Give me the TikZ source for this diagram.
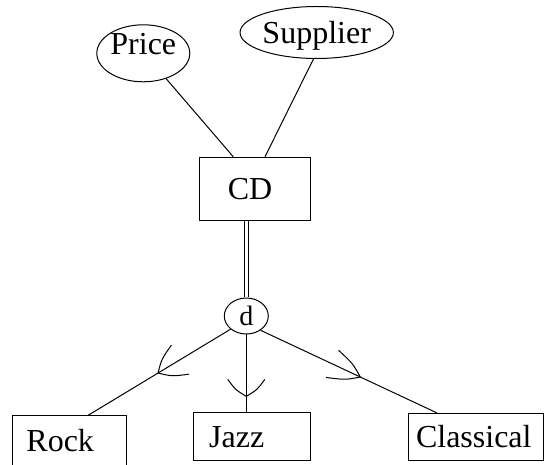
\documentclass[tikz,border=0pt]{standalone}
\usepackage{fontspec}
\setmainfont{Liberation Serif}
\usetikzlibrary{shapes.geometric,decorations.markings}
\tikzset{
  lbl/.style={font=\fontsize{32}{38}\selectfont, text height=21.2pt, text depth=0pt, inner sep=0pt},
  attr/.style={lbl, draw, ellipse, line width=1pt},
  entity/.style={lbl, draw, rectangle, line width=1pt},
  conn/.style={line width=1pt},
  isa/.style n args={3}{postaction={decorate, decoration={markings,
     mark=at position #1 with {\draw[line width=1pt] (-#2,#3) .. controls (-0.4*#2,0.6*#3) .. (0,0) .. controls (-0.4*#2,-0.6*#3) .. (-#2,-#3);}}}}
}
\begin{document}
\begin{tikzpicture}[x=1pt, y=-1pt]
\clip (0,0) rectangle (544,465);
\fill[white] (0,0) rectangle (544,465);
% attributes
\node[attr, text depth=18pt, minimum width=93pt, minimum height=57pt] (price) at (143.3,53.3) {Price};
\node[attr, minimum width=150pt, minimum height=52pt] (supplier) at (316.7,32.5) {Supplier};
% entity
\node[entity, minimum width=111.4pt, minimum height=63.4pt] (cd) at (255,189) {CD\kern10pt};
% disjoint circle
\node[draw, ellipse, line width=1pt, inner sep=0pt, minimum width=44pt, minimum height=36pt,
      font=\fontsize{28}{32}\selectfont, text height=19pt, text depth=0pt] (d) at (246.3,316) {d};
% subclasses
\node[entity, minimum width=114pt, minimum height=50.6pt] (rock) at (69.7,441) {Rock\kern19pt};
\node[entity, minimum width=116.7pt, minimum height=48.3pt] (jazz) at (251.7,436.5) {Jazz\kern30pt};
\node[entity, minimum width=135pt, minimum height=46.7pt] (classical) at (475.8,436.7) {Classical\kern4pt};
% connectors
\draw[conn] (price.-48) -- ([xshift=-21.7pt]cd.north);
\draw[conn] (supplier.-97) -- ([xshift=10pt]cd.north);
\draw[conn, double, double distance=3.5pt, shorten >=0.6pt] (cd.south -| d.north) -- (d.north);
\draw[conn, isa={0.51}{26}{17}] (d.220) -- ([xshift=18.6pt]rock.north);
\draw[conn, isa={0.8}{17}{18.5}] (d.south) -- (d.south |- jazz.north);
\draw[conn, isa={0.566}{31}{15}] (d.-45) -- ([xshift=-39pt]classical.north);
\end{tikzpicture}
\end{document}
